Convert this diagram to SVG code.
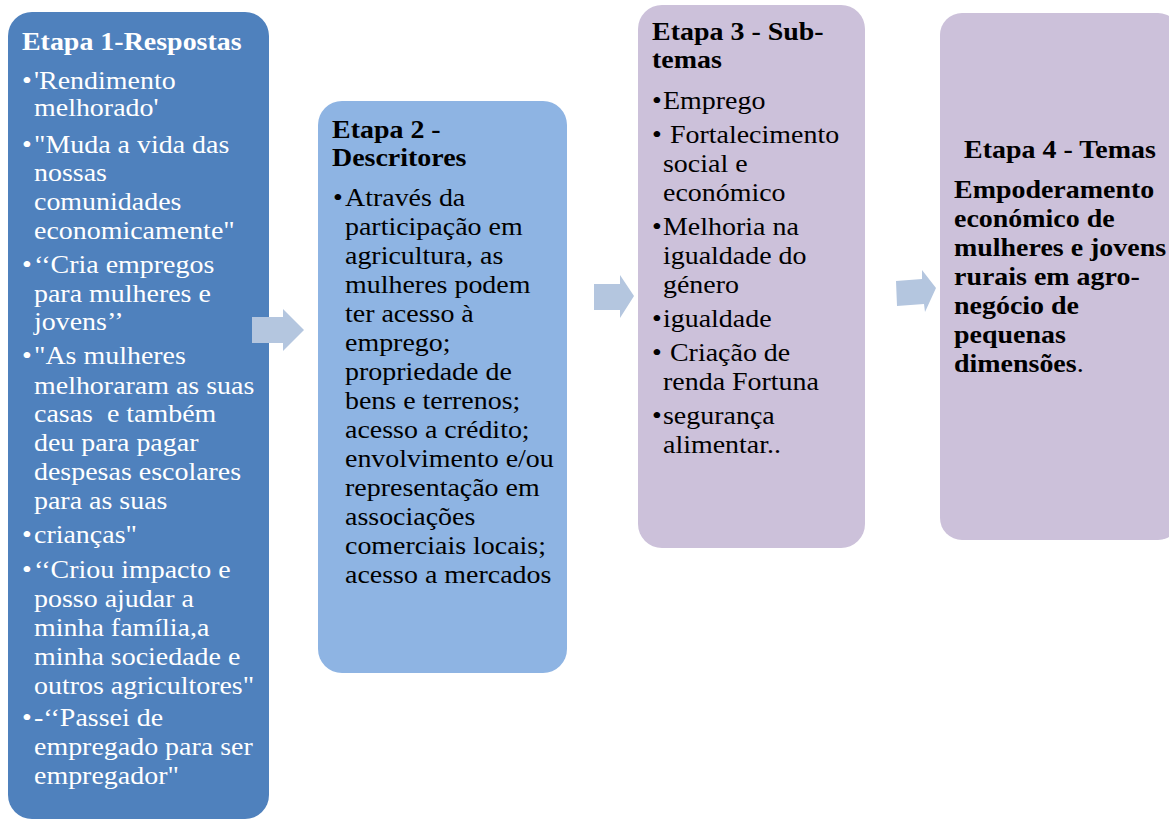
<svg xmlns="http://www.w3.org/2000/svg" width="1169" height="819" viewBox="0 0 1169 819">
<style>
.t{font-family:"Liberation Serif","Times New Roman",serif;font-size:26px}
.b{font-weight:bold}
.w{fill:#ffffff}
.k{fill:#000000}
.arrow{fill:#b4c6df}
</style>
<rect width="1169" height="819" fill="#ffffff"/>
<g id="node1">
<rect x="8" y="12" width="261" height="807" rx="24" fill="#4f81bd"/>
<g transform="translate(34 0) scale(1.075 1)" class="t w">
<text x="-11.2" y="50" class="b">Etapa 1-Respostas</text>
<text x="-11.2" y="89">•</text><text x="0" y="89">'Rendimento</text>
<text x="0" y="116">melhorado'</text>
<text x="-11.2" y="153">•</text><text x="0" y="153">"Muda a vida das</text>
<text x="0" y="181">nossas</text>
<text x="0" y="210">comunidades</text>
<text x="0" y="239">economicamente"</text>
<text x="-11.2" y="273">•</text><text x="0" y="273">‘‘Cria empregos</text>
<text x="0" y="302">para mulheres e</text>
<text x="0" y="330">jovens’’</text>
<text x="-11.2" y="364">•</text><text x="0" y="364">"As mulheres</text>
<text x="0" y="394">melhoraram as suas</text>
<text x="0" y="422" xml:space="preserve">casas  e também</text>
<text x="0" y="451">deu para pagar</text>
<text x="0" y="480">despesas escolares</text>
<text x="0" y="509">para as suas</text>
<text x="-11.2" y="543">•</text><text x="0" y="543">crianças"</text>
<text x="-11.2" y="578">•</text><text x="0" y="578">‘‘Criou impacto e</text>
<text x="0" y="607">posso ajudar a</text>
<text x="0" y="636">minha família,a</text>
<text x="0" y="665">minha sociedade e</text>
<text x="0" y="694">outros agricultores"</text>
<text x="-11.2" y="726">•</text><text x="0" y="726">-‘‘Passei de</text>
<text x="0" y="755">empregado para ser</text>
<text x="0" y="784">empregador"</text>
</g>
</g>
<g id="node2">
<rect x="318" y="101" width="249" height="572" rx="24" fill="#8eb4e3"/>
<g transform="translate(345 0) scale(1.075 1)" class="t k">
<text x="-12.1" y="138" class="b">Etapa 2 -</text>
<text x="-12.1" y="166" class="b">Descritores</text>
<text x="-11.2" y="206">•</text><text x="0" y="206">Através da</text>
<text x="0" y="235">participação em</text>
<text x="0" y="264">agricultura, as</text>
<text x="0" y="293">mulheres podem</text>
<text x="0" y="322">ter acesso à</text>
<text x="0" y="351">emprego;</text>
<text x="0" y="380">propriedade de</text>
<text x="0" y="409">bens e terrenos;</text>
<text x="0" y="438">acesso a crédito;</text>
<text x="0" y="467">envolvimento e/ou</text>
<text x="0" y="496">representação em</text>
<text x="0" y="525">associações</text>
<text x="0" y="554">comerciais locais;</text>
<text x="0" y="583">acesso a mercados</text>
</g>
</g>
<g id="node3">
<rect x="638" y="5" width="227" height="543" rx="24" fill="#ccc1da"/>
<g transform="translate(663 0) scale(1.075 1)" class="t k">
<text x="-10.2" y="40" class="b">Etapa 3 - Sub-</text>
<text x="-10.2" y="68" class="b">temas</text>
<text x="-10.2" y="109">•</text><text x="0" y="109">Emprego</text>
<text x="-10.2" y="143">•</text><text x="6.5" y="143">Fortalecimento</text>
<text x="0" y="172">social e</text>
<text x="0" y="201">económico</text>
<text x="-10.2" y="235">•</text><text x="0" y="235">Melhoria na</text>
<text x="0" y="264">igualdade do</text>
<text x="0" y="293">género</text>
<text x="-10.2" y="327">•</text><text x="0" y="327">igualdade</text>
<text x="-10.2" y="361">•</text><text x="6.5" y="361">Criação de</text>
<text x="0" y="390">renda Fortuna</text>
<text x="-10.2" y="424">•</text><text x="0" y="424">segurança</text>
<text x="0" y="453">alimentar..</text>
</g>
</g>
<g id="node4">
<rect x="940" y="13" width="240" height="527" rx="22" fill="#ccc1da"/>
<g transform="translate(954 0) scale(1.075 1)" class="t k">
<text x="98.6" y="158" class="b" text-anchor="middle">Etapa 4 - Temas</text>
<text x="0" y="198" class="b">Empoderamento</text>
<text x="0" y="227" class="b">económico de</text>
<text x="0" y="256" class="b">mulheres e jovens</text>
<text x="0" y="285" class="b">rurais em agro-</text>
<text x="0" y="314" class="b">negócio de</text>
<text x="0" y="343" class="b">pequenas</text>
<text x="0" y="372"><tspan class="b">dimensões</tspan>.</text>
</g>
</g>
<g id="connectors">
<polygon class="arrow" points="252,317 283,317 283,309 304,330 283,351 283,343 252,343"/>
<polygon class="arrow" points="594,284 620,284 620,275 634,296 620,318 620,310 594,310"/>
<polygon class="arrow" points="896,281 922,279 922,270 936,288 925,312 924,304 897,306"/>
</g>
</svg>
